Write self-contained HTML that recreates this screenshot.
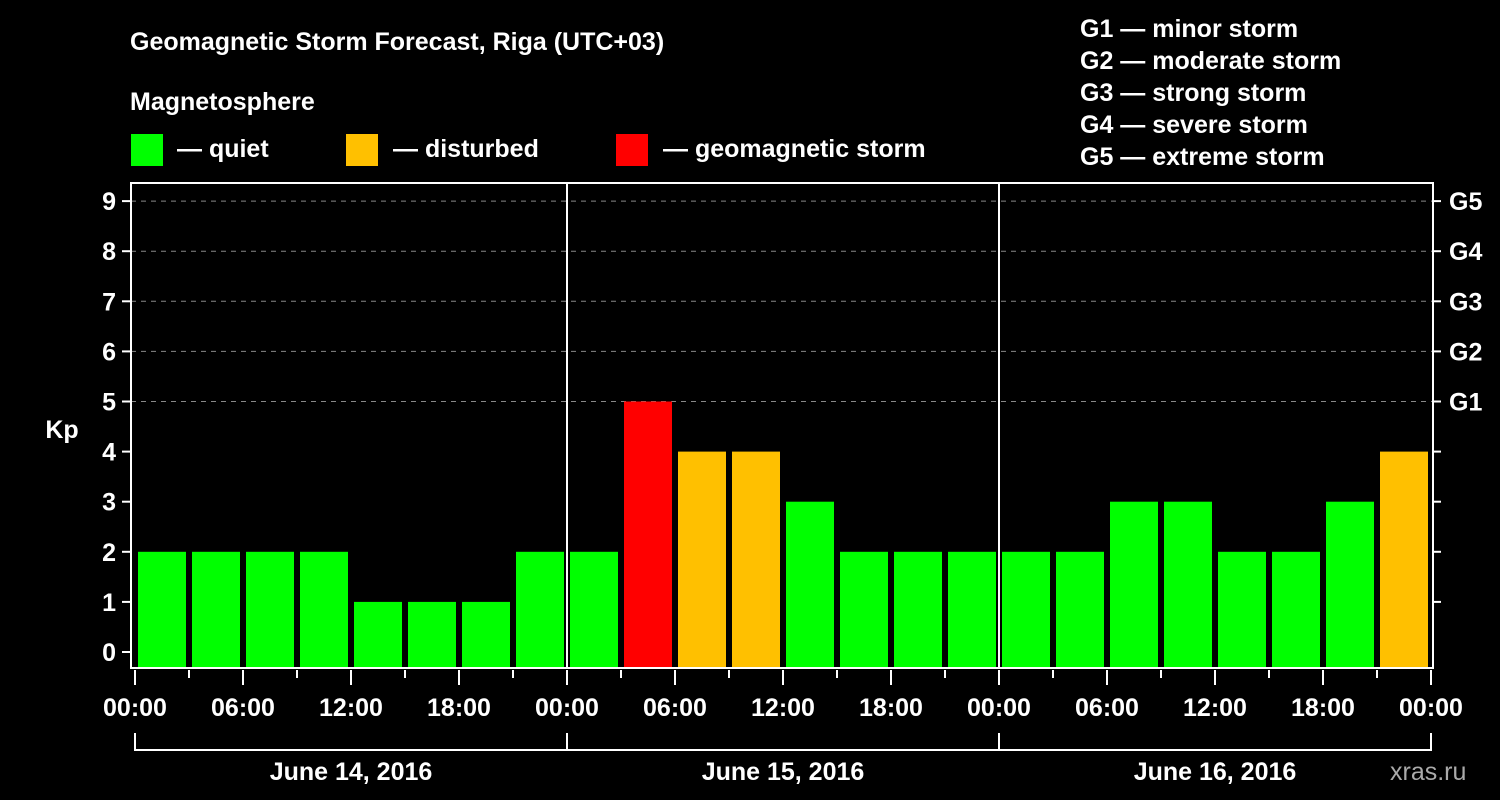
<!DOCTYPE html>
<html><head><meta charset="utf-8"><style>
body{margin:0;background:#000;}
svg{display:block;font-family:"Liberation Sans",sans-serif;font-weight:bold;}
</style></head><body>
<svg id="c" width="1500" height="800" viewBox="0 0 1500 800">
<rect width="1500" height="800" fill="#000"/>
<text x="130" y="50" fill="#fff" font-size="25">Geomagnetic Storm Forecast, Riga (UTC+03)</text>
<text x="130" y="110" fill="#fff" font-size="25">Magnetosphere</text>
<g><rect x="131" y="134" width="32" height="32" fill="#00ff00"/><text x="177" y="157" fill="#fff" font-size="25">— quiet</text></g>
<g><rect x="346" y="134" width="32" height="32" fill="#ffc000"/><text x="393" y="157" fill="#fff" font-size="25">— disturbed</text></g>
<g><rect x="616" y="134" width="32" height="32" fill="#ff0000"/><text x="663" y="157" fill="#fff" font-size="25">— geomagnetic storm</text></g>
<g fill="#fff" font-size="25">
<text x="1080" y="37">G1 — minor storm</text>
<text x="1080" y="69">G2 — moderate storm</text>
<text x="1080" y="101">G3 — strong storm</text>
<text x="1080" y="133">G4 — severe storm</text>
<text x="1080" y="165">G5 — extreme storm</text>
</g>
<text x="62" y="438" fill="#fff" font-size="25" text-anchor="middle">Kp</text>
<text x="1390" y="780" fill="#aaa" font-size="25" font-weight="normal">xras.ru</text>
<g id="grid"></g><g id="bars"></g><g id="axes"></g>
</svg>
<script>
const values=[2,2,2,2,1,1,1,2, 2,5,4,4,3,2,2,2, 2,2,3,3,2,2,3,4];
const colorsByLevel=["quiet","disturbed","storm"];
const yTicks=[0,1,2,3,4,5,6,7,8,9];
const gLabels=["G1","G2","G3","G4","G5"];
const gLevels=[5,6,7,8,9];
const hourLabels=["00:00","06:00","12:00","18:00"];
const dayLabels=["June 14, 2016","June 15, 2016","June 16, 2016"];
const NS="http://www.w3.org/2000/svg";
const L=131,R=1433,T=183,B=668,X0=135,DAY=432;
const y=v=>652-v*50.1;
const x=h=>X0+h*DAY/24;
function mk(tag,at,parent){const e=document.createElementNS(NS,tag);for(const k in at)e.setAttribute(k,at[k]);parent.appendChild(e);return e;}
const grid=document.getElementById('grid'),bars=document.getElementById('bars'),axes=document.getElementById('axes');
gLevels.forEach((g,i)=>{const l=mk('line',{x1:L,x2:R,y1:y(g),y2:y(g),stroke:'#888','stroke-dasharray':'5,5'},grid);

});
values.forEach((v,i)=>{const c=v>=5?'#ff0000':v>=4?'#ffc000':'#00ff00';
const r=mk('rect',{x:x(i*3)+3,y:y(v),width:48,height:B-y(v),fill:c},bars);

});
const fr=mk('rect',{x:L,y:T,width:R-L,height:B-T,fill:'none',stroke:'#fff','stroke-width':2},axes);


for(let d=1;d<3;d++){const l=mk('line',{x1:x(d*24),x2:x(d*24),y1:T,y2:B,stroke:'#fff','stroke-width':2},axes);

}
yTicks.forEach(t=>{mk('line',{x1:122,x2:L,y1:y(t),y2:y(t),stroke:'#fff','stroke-width':2},axes);
const tx=mk('text',{x:116,y:y(t)+9,fill:'#fff','font-size':25,'text-anchor':'end'},axes);tx.textContent=t;


if(t>0) mk('line',{x1:R,x2:1441,y1:y(t),y2:y(t),stroke:'#fff','stroke-width':2},axes);});
gLevels.forEach((g,i)=>{const tx=mk('text',{x:1449,y:y(g)+9,fill:'#fff','font-size':25},axes);tx.textContent=gLabels[i];

});
for(let h=0;h<=72;h+=3){const major=h%6===0;
mk('line',{x1:x(h),x2:x(h),y1:B+2,y2:major?685:678,stroke:'#fff','stroke-width':2},axes);
if(major){const tx=mk('text',{x:x(h),y:716,fill:'#fff','font-size':25,'text-anchor':'middle'},axes);tx.textContent=hourLabels[(h/6)%4];

}}
mk('path',{d:`M${x(0)} 733V750H${x(72)}V733M${x(24)} 733V750M${x(48)} 733V750`,fill:'none',stroke:'#fff','stroke-width':2},axes);
dayLabels.forEach((d,i)=>{const tx=mk('text',{x:x(i*24+12),y:780,fill:'#fff','font-size':25,'text-anchor':'middle'},axes);tx.textContent=d;

});
</script>
</body></html>
